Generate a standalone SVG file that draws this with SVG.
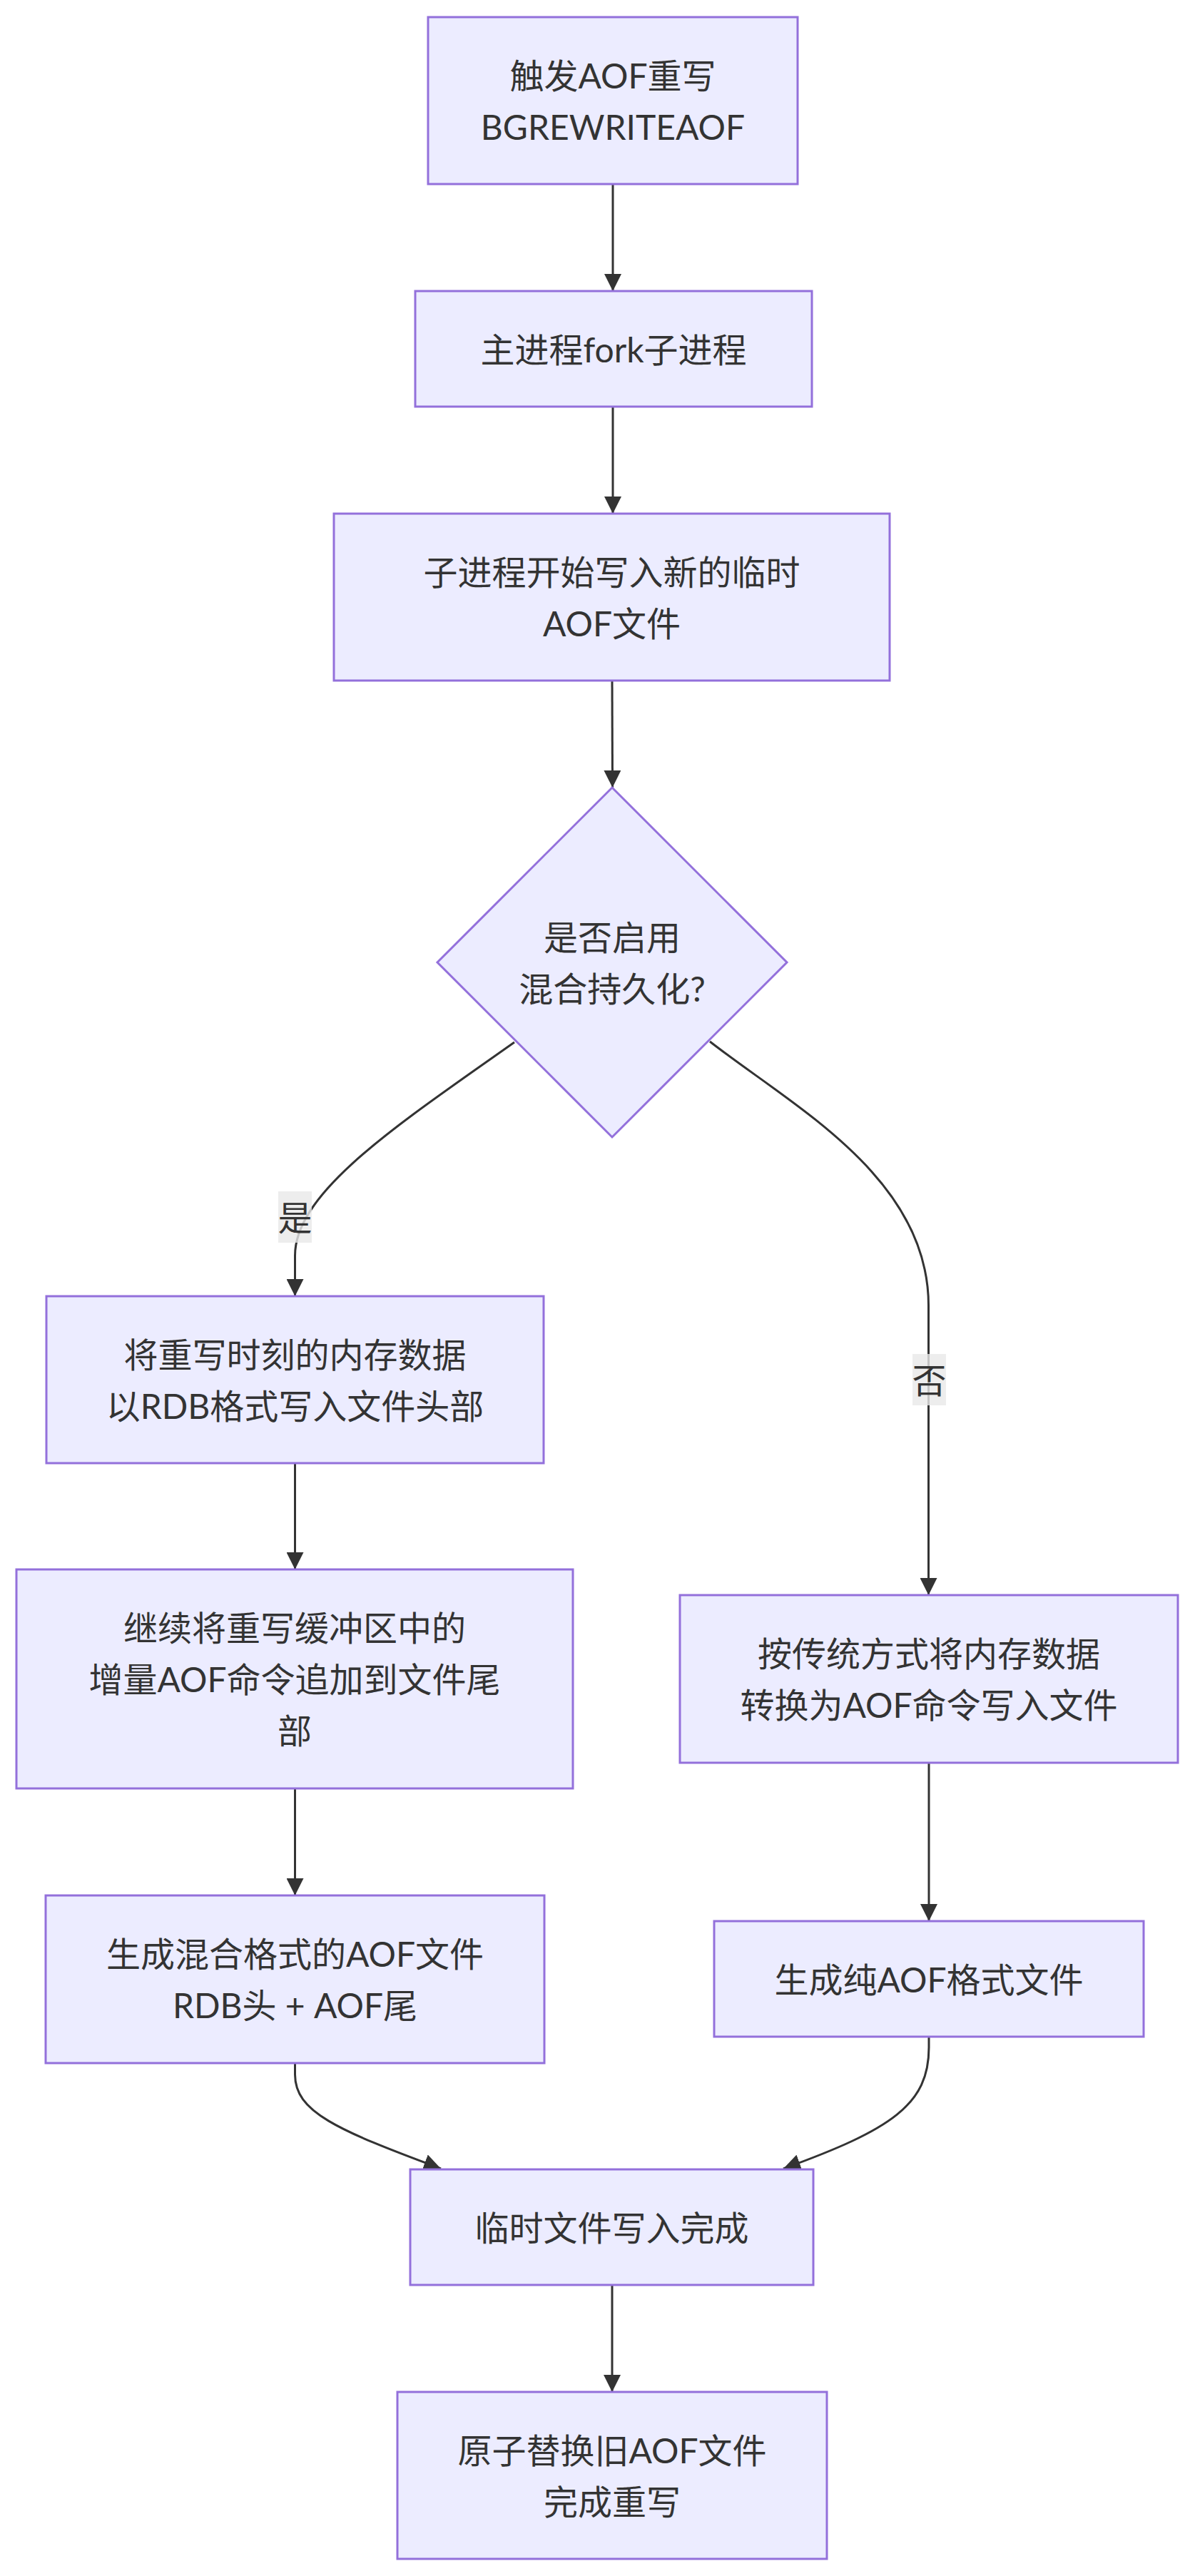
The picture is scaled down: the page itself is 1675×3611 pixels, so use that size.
<svg xmlns="http://www.w3.org/2000/svg" width="1675" height="3611" viewBox="0 0 1675 3611">
<style>
.node rect,.node polygon{fill:#ECECFF;stroke:#9370DB;stroke-width:3}
text{font-family:"Lato","Noto Sans CJK SC",sans-serif;font-size:48px;fill:#333333;text-anchor:middle;dominant-baseline:central}
.edge{fill:none;stroke:#333333;stroke-width:3}
.lbl{fill:#E8E8E8;fill-opacity:0.8}
</style>
<defs>
<marker id="arrow" viewBox="0 0 10 10" refX="10" refY="5" markerUnits="userSpaceOnUse" markerWidth="24" markerHeight="24" orient="auto">
<path d="M0,0 L10,5 L0,10 z" fill="#333333"/>
</marker>
</defs>
<rect width="1675" height="3611" fill="#ffffff"/>
<g id="connectors">
<path class="edge" marker-end="url(#arrow)" d="M859,258 L859,408"/>
<path class="edge" marker-end="url(#arrow)" d="M859,570 L859,720"/>
<path class="edge" marker-end="url(#arrow)" d="M858,954 L858.5,1104"/>
<path class="edge" marker-end="url(#arrow)" d="M721,1461 C560,1575 413.5,1670 413.5,1760 L413.5,1817"/>
<path class="edge" marker-end="url(#arrow)" d="M995,1460 C1110,1550 1301.5,1650 1301.5,1830 L1301.5,2236"/>
<path class="edge" marker-end="url(#arrow)" d="M413.5,2051 L413.5,2200"/>
<path class="edge" marker-end="url(#arrow)" d="M413.5,2507 L413.5,2657"/>
<path class="edge" marker-end="url(#arrow)" d="M1302,2471 L1302,2693"/>
<path class="edge" marker-end="url(#arrow)" d="M413.5,2892 L413.5,2908 C413.5,2960 470,2985 618,3040"/>
<path class="edge" marker-end="url(#arrow)" d="M1302,2855 L1302,2870 C1302,2950 1250,2985 1098,3040"/>
<path class="edge" marker-end="url(#arrow)" d="M858,3203 L858,3353"/>
<g id="label-yes">
<rect class="lbl" x="390" y="1670" width="47" height="72"/>
<text x="413.5" y="1706">是</text>
</g>
<g id="label-no">
<rect class="lbl" x="1279" y="1898" width="47" height="72"/>
<text x="1302.5" y="1934">否</text>
</g>
</g>
<g id="n1" class="node">
<rect x="600" y="24" width="518" height="234"/>
<text x="859" y="105">触发AOF重写</text>
<text x="859" y="177">BGREWRITEAOF</text>
</g>
<g id="n2" class="node">
<rect x="582" y="408" width="556" height="162"/>
<text x="860" y="489">主进程fork子进程</text>
</g>
<g id="n3" class="node">
<rect x="468" y="720" width="779" height="234"/>
<text x="857.5" y="801">子进程开始写入新的临时</text>
<text x="857.5" y="873">AOF文件</text>
</g>
<g id="n4" class="node">
<polygon points="858,1104 1103,1349 858,1594 613,1349"/>
<text x="858" y="1313">是否启用</text>
<text x="858" y="1385">混合持久化?</text>
</g>
<g id="n5" class="node">
<rect x="65" y="1817" width="697" height="234"/>
<text x="413.5" y="1898">将重写时刻的内存数据</text>
<text x="413.5" y="1970">以RDB格式写入文件头部</text>
</g>
<g id="n6" class="node">
<rect x="23" y="2200" width="780" height="307"/>
<text x="413" y="2281.5">继续将重写缓冲区中的</text>
<text x="413" y="2353.5">增量AOF命令追加到文件尾</text>
<text x="413" y="2425.5">部</text>
</g>
<g id="n7" class="node">
<rect x="953" y="2236" width="698" height="235"/>
<text x="1302" y="2317.5">按传统方式将内存数据</text>
<text x="1302" y="2389.5">转换为AOF命令写入文件</text>
</g>
<g id="n8" class="node">
<rect x="64" y="2657" width="699" height="235"/>
<text x="413.5" y="2738.5">生成混合格式的AOF文件</text>
<text x="413.5" y="2810.5">RDB头 + AOF尾</text>
</g>
<g id="n9" class="node">
<rect x="1001" y="2693" width="602" height="162"/>
<text x="1302" y="2774">生成纯AOF格式文件</text>
</g>
<g id="n10" class="node">
<rect x="575" y="3041" width="565" height="162"/>
<text x="857.5" y="3122">临时文件写入完成</text>
</g>
<g id="n11" class="node">
<rect x="557" y="3353" width="602" height="234"/>
<text x="858" y="3434">原子替换旧AOF文件</text>
<text x="858" y="3506">完成重写</text>
</g>
</svg>
